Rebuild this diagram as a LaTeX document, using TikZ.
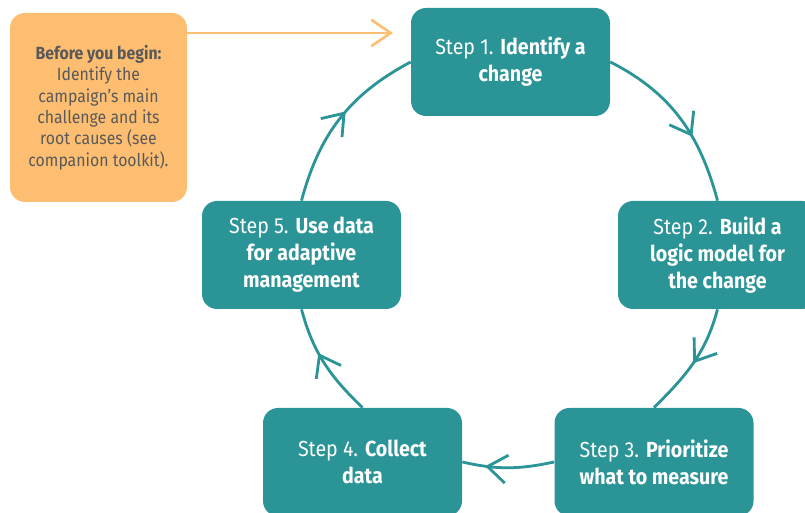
\documentclass[tikz,border=0pt]{standalone}
\usepackage{fontspec}
\setmainfont{Fira Sans}[FakeStretch=0.9]
\usetikzlibrary{arrows.meta,decorations.markings}
\definecolor{stepteal}{HTML}{2A9496}
\definecolor{prepfill}{HTML}{FDBE71}
\definecolor{preptext}{HTML}{595959}
\tikzset{
  stepbox/.style={fill=stepteal, text=white, rounded corners=0.3cm, minimum width=3.98cm,
    minimum height=2.16cm, inner sep=0pt, align=center, font=\fontsize{12.4}{15.3}\selectfont},
  cycle/.style={draw=stepteal, line width=1.6pt},
  midarrow/.style={postaction={decorate, decoration={markings,
    mark=at position #1 with {\arrow{Straight Barb[length=11pt, width=16pt, line width=1.6pt]}}}}}
}
\begin{document}
\begin{tikzpicture}
  \useasboundingbox (0,0) rectangle (16.1,10.26);
  \clip (0,0) rectangle (16.1,10.26);

  % before starting
  \node[fill=prepfill, text=preptext, rounded corners=0.3cm, minimum width=3.54cm, minimum height=3.78cm,
    inner sep=0pt, align=center, font=\fontsize{10}{12.2}\selectfont] (prep) at (1.97,8.11)
    {\textbf{Before you begin:}\\Identify the\\campaign’s main\\challenge and its\\root causes (see\\companion toolkit).};
  \coordinate (start) at (7.86,9.60);

  % the five steps
  \node[stepbox] (s1) at (10.21,9.02) {Step 1. \textbf{Identify a}\\\textbf{change}};
  \node[stepbox] (s2) at (14.35,5.16) {Step 2. \textbf{Build a}\\\textbf{logic model for}\\\textbf{the change}};
  \node[stepbox] (s3) at (13.08,1.02) {Step 3. \textbf{Prioritize}\\\textbf{what to measure}};
  \node[stepbox] (s4) at (7.25,1.02) {Step 4. \textbf{Collect}\\\textbf{data}};
  \node[stepbox] (s5) at (6.03,5.16) {Step 5. \textbf{Use data}\\\textbf{for adaptive}\\\textbf{management}};

  \draw[draw=prepfill, line width=1.5pt, -{Straight Barb[length=11pt, width=15pt]}] (prep.east |- start) -- (start);

  \draw[cycle, midarrow=0.62] (s1.east) to[out=-27, in=105] (s2.north);
  \draw[cycle, midarrow=0.5] (s2.south) to[out=-105, in=45] (s3.north);
  \draw[cycle, midarrow=0.75] (s3.west) to[out=-168, in=-13] (s4.east);
  \draw[cycle, midarrow=0.6] (s4.north) to[out=136, in=-75] (s5.south);
  \draw[cycle, midarrow=0.55] (s5.north) to[out=75, in=-152] (s1.west);
\end{tikzpicture}
\end{document}
